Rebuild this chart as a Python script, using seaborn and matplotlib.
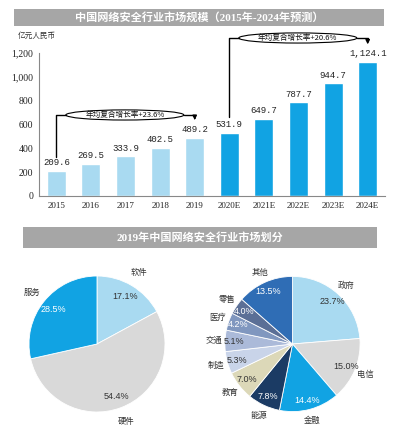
import pandas as pd
import matplotlib.pyplot as plt
import seaborn as sns
from matplotlib.patches import Ellipse, Rectangle

# Market size (100 million CNY)
years = ['2015', '2016', '2017', '2018', '2019', '2020E', '2021E', '2022E', '2023E', '2024E']
market_size = [209.6, 269.5, 333.9, 402.5, 489.2, 531.9, 649.7, 787.7, 944.7, 1124.1]
cagr_labels = ['年均复合增长率+23.6%', '年均复合增长率+20.6%']

# 2019 split by product
product_names = ['软件', '硬件', '服务']
product_share = [17.1, 54.4, 28.5]

# 2019 split by industry
industry_names = ['政府', '电信', '金融', '能源', '教育', '制造', '交通', '医疗', '零售', '其他']
industry_share = [23.7, 15.0, 14.4, 7.8, 7.0, 5.3, 5.1, 4.2, 4.0, 13.5]

light_blue = '#a9daf1'
bright_blue = '#11a3e3'
bar_colors = [light_blue] * 5 + [bright_blue] * 5
product_colors = [light_blue, '#d9d9d9', bright_blue]
industry_colors = [light_blue, '#d9d9d9', bright_blue, '#1b3b64', '#dcd8b8',
                   '#c9d4e9', '#abbad9', '#8097bf', '#5b6f96', '#2f6db5']
industry_text = ['#333333', '#333333', 'white', 'white', '#333333',
                 '#333333', '#333333', 'white', 'white', 'white']

sns.set_theme(style="white")
plt.rcParams['font.family'] = ['Noto Sans CJK SC', 'DejaVu Sans']
serif = ['Liberation Serif', 'Noto Sans CJK SC']

fig = plt.figure(figsize=(3.98, 4.28), dpi=100)

# --- title bars ---
def title_bar(x0, y0, x1, y1, text):
    W, H = 398, 428
    fig.patches.append(Rectangle((x0 / W, 1 - y1 / H), (x1 - x0) / W, (y1 - y0) / H,
                                 transform=fig.transFigure, facecolor='#a6a6a6',
                                 edgecolor='none'))
    fig.text((x0 + x1) / 2 / W, 1 - (y0 + y1) / 2 / H, text, color='white',
             fontsize=8, fontweight='bold', ha='center', va='center', family=serif)

title_bar(14, 9, 384, 26, '中国网络安全行业市场规模（2015年-2024年预测）')
title_bar(23, 227, 377, 248, '2019年中国网络安全行业市场划分')

# --- bar chart ---
ax = fig.add_axes([39 / 398, 1 - 196 / 428, 346 / 398, 143 / 428])
df = pd.DataFrame({'year': years, 'size': market_size})
sns.barplot(data=df, x='year', y='size', hue='year', palette=bar_colors,
            width=0.55, legend=False, ax=ax, saturation=1)
ax.set_xlim(-0.5, 9.5)
ax.set_ylim(0, 1200)
ax.set_yticks(range(0, 1201, 200))
ax.set_yticklabels([f'{v:,}' for v in range(0, 1201, 200)], family=serif, fontsize=7)
ax.set_xticks(range(len(years)))
ax.set_xticklabels(years, family=serif, fontsize=6.5)
ax.set_xlabel('')
ax.set_ylabel('')
ax.tick_params(axis='both', length=0, pad=4, colors='#222222')
for side in ['top', 'right']:
    ax.spines[side].set_visible(False)
for side in ['left', 'bottom']:
    ax.spines[side].set_color('#888888')
    ax.spines[side].set_linewidth(0.8)

for i, v in enumerate(market_size):
    ax.text(i, v + 30, f'{v:,.1f}', ha='center', va='bottom', fontsize=6.5,
            family=['Liberation Mono', 'DejaVu Sans'], color='#222222')

fig.text(18 / 398, 1 - 36 / 428, '亿元人民币', fontsize=5.5, va='center', color='#333333')

# CAGR brackets
def bracket(i0, i1, y_start, y_top, y_end, label):
    cx = (i0 + i1) / 2 - 0.02
    ew = 3.41
    ax.plot([i0, i0, cx - ew / 2], [y_start, y_top, y_top], color='black', lw=1,
            clip_on=False)
    ax.add_patch(Ellipse((cx, y_top), ew, 85, facecolor='white', edgecolor='black',
                         lw=0.8, clip_on=False))
    ax.plot([cx + ew / 2, i1], [y_top, y_top], color='black', lw=1, clip_on=False)
    ax.annotate('', xy=(i1, y_end), xytext=(i1, y_top + 4),
                arrowprops=dict(arrowstyle='-|>', color='black', lw=1, mutation_scale=6),
                annotation_clip=False)
    ax.text(cx, y_top, label, ha='center', va='center', fontsize=5.5,
            color='#111111', clip_on=False)

bracket(0, 4, market_size[0] + 118, 680, market_size[4] + 125, cagr_labels[0])
bracket(5, 9, market_size[5] + 130, 1326, market_size[9] + 125, cagr_labels[1])

# --- pies ---
def pie(ax, values, names, colors, text_colors, pctd, labd):
    wedges, texts, autotexts = ax.pie(values, labels=names, colors=colors,
                                      startangle=90, counterclock=False,
                                      autopct='%.1f%%', pctdistance=pctd,
                                      labeldistance=labd,
                                      wedgeprops=dict(edgecolor='white', linewidth=0.6),
                                      textprops=dict(fontsize=6))
    for t in texts:
        t.set_color('#333333')
        t.set_ha('center')
    for t, c in zip(autotexts, text_colors):
        t.set_color(c)
        t.set_fontsize(6.5)
        t.set_family(['Liberation Sans', 'DejaVu Sans'])
    ax.set_xlim(-1.25, 1.25)
    ax.set_ylim(-1.25, 1.25)
    ax.set_aspect('equal')

ax_l = fig.add_axes([12 / 398, 1 - 429 / 428, 170 / 398, 170 / 428])
pie(ax_l, product_share, product_names, product_colors,
    ['#333333', '#333333', 'white'], 0.82, 1.22)

ax_r = fig.add_axes([208 / 398, 1 - 429 / 428, 169 / 398, 170 / 428])
pie(ax_r, industry_share, industry_names, industry_colors, industry_text, 0.86, 1.17)

plt.savefig('out.png', dpi=100)
